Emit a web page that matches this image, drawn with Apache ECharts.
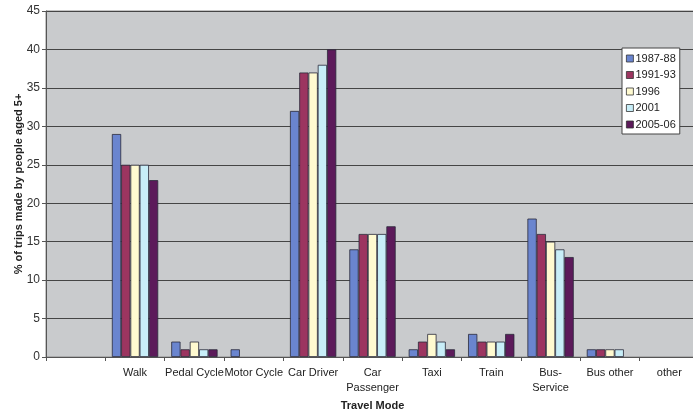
<!DOCTYPE html>
<html>
<head>
<meta charset="utf-8">
<script src="https://cdn.jsdelivr.net/npm/echarts@6/dist/echarts.min.js"></script>
<style>
  html, body { margin: 0; padding: 0; background: #ffffff; }
  #chart { width: 693px; height: 412px; }
</style>
</head>
<body>
<div id="chart"></div>
<script>
// Travel modes (first slot is an unlabeled spacer category)
const categories = ['', 'Walk', 'Pedal Cycle', 'Motor Cycle', 'Car Driver', 'Car\nPassenger',
  'Taxi', 'Train', 'Bus-\nService', 'Bus other', 'other'];

// Survey periods
const periods = ['1987-88', '1991-93', '1996', '2001', '2005-06'];

// % of trips made by people aged 5+, per period
const y1987 = [null, 29, 2, 1, 32, 14, 1, 3, 18, 1, null];
const y1991 = [null, 25, 1, null, 37, 16, 2, 2, 16, 1, null];
const y1996 = [null, 25, 2, null, 37, 16, 3, 2, 15, 1, null];
const y2001 = [null, 25, 1, null, 38, 16, 2, 2, 14, 1, null];
const y2005 = [null, 23, 1, null, 40, 17, 1, 3, 13, null, null];

const colors = ['#6a85cf', '#9c3560', '#fffad0', '#c8eef8', '#5c1a5a'];
const seriesData = [y1987, y1991, y1996, y2001, y2005];

const chart = echarts.init(document.getElementById('chart'), null, { renderer: 'canvas' });

const fontFamily = 'Liberation Sans, Arial, sans-serif';

chart.setOption({
  animation: false,
  backgroundColor: '#ffffff',
  textStyle: { fontFamily: fontFamily },
  grid: {
    left: 46, right: -6, top: 11, bottom: 55,
    containLabel: false,
    outerBoundsMode: 'none',
    show: true,
    backgroundColor: '#c9cbcd',
    borderColor: '#8a8a8a',
    borderWidth: 1
  },
  legend: {
    orient: 'vertical',
    left: 622, top: 48,
    width: 58,
    backgroundColor: '#ffffff',
    borderColor: '#444444',
    borderWidth: 1,
    padding: [5, 4, 4, 4],
    itemWidth: 7, itemHeight: 7,
    itemGap: 5.5,
    icon: 'rect',
    itemStyle: { borderColor: '#333', borderWidth: 0.8 },
    textStyle: { fontSize: 11, color: '#222', fontFamily: fontFamily, padding: [0, 0, 0, -3] },
    data: periods
  },
  xAxis: {
    type: 'category',
    data: categories,
    name: 'Travel Mode',
    nameLocation: 'middle',
    nameGap: 43,
    nameMoveOverlap: false,
    nameTextStyle: { fontWeight: 'bold', fontSize: 11, color: '#222' },
    axisLine: { lineStyle: { color: '#555', width: 1 } },
    axisTick: { show: true, length: 4, lineStyle: { color: '#555' } },
    axisLabel: { fontSize: 11, color: '#222', margin: 8, lineHeight: 15, interval: 0 },
    splitLine: { show: false }
  },
  yAxis: {
    type: 'value',
    min: 0, max: 45, interval: 5,
    name: '% of trips made by people aged 5+',
    nameLocation: 'middle',
    nameGap: 22,
    nameMoveOverlap: false,
    nameRotate: 90,
    nameTextStyle: { fontWeight: 'bold', fontSize: 11, color: '#222' },
    axisLine: { show: true, lineStyle: { color: '#555', width: 1 } },
    axisTick: { show: true, length: 4, lineStyle: { color: '#555' } },
    axisLabel: { fontSize: 12, color: '#333', margin: 6 },
    splitLine: { lineStyle: { color: '#454545', width: 1 } }
  },
  series: periods.map((p, i) => ({
    name: p,
    type: 'bar',
    data: seriesData[i],
    barGap: '0%',
    barCategoryGap: '22%',
    itemStyle: { color: colors[i], borderColor: '#2a2a3a', borderWidth: 0.8 }
  }))
});
</script>
</body>
</html>
